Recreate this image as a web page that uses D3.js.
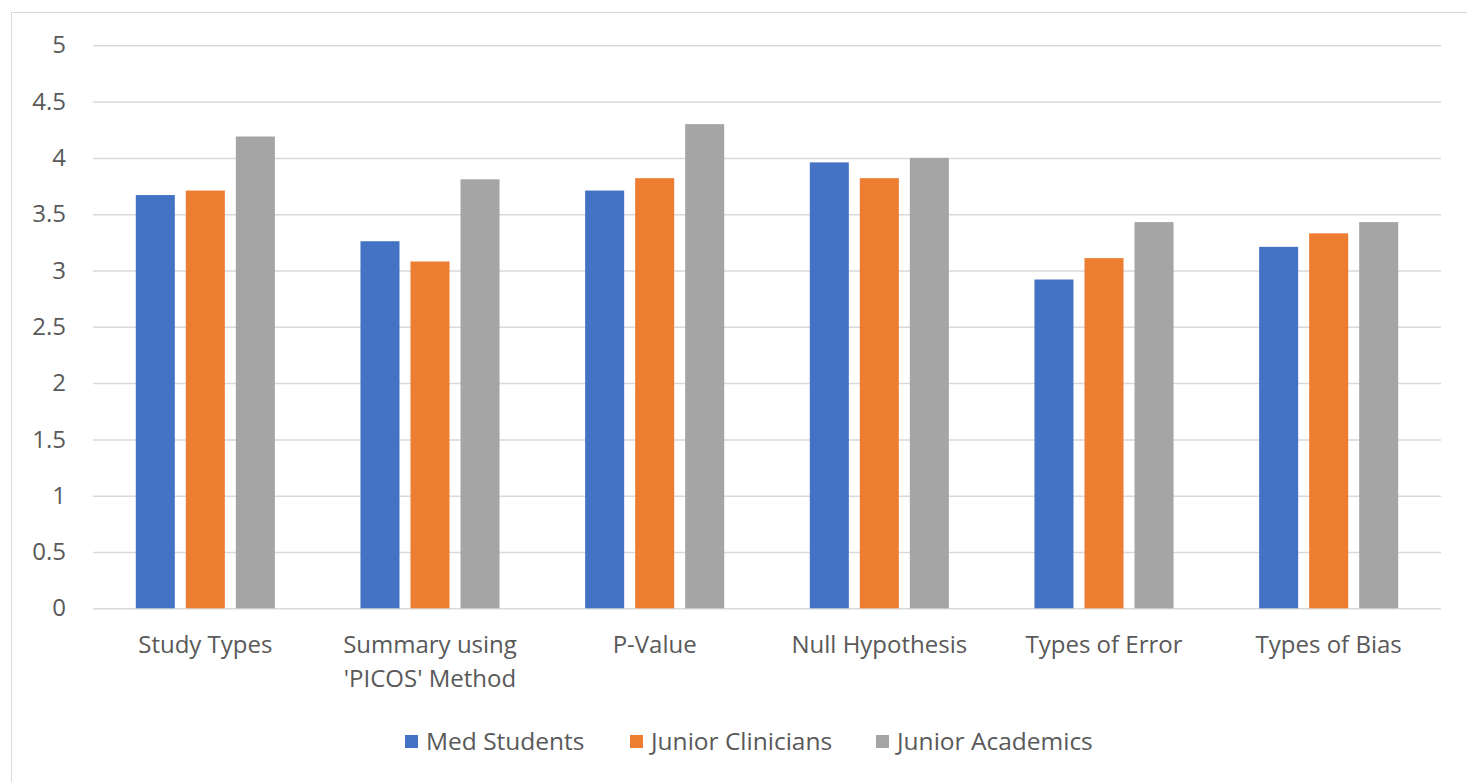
<!DOCTYPE html>
<html>
<head>
<meta charset="utf-8">
<script src="https://cdn.jsdelivr.net/npm/d3@7"></script>
<style>
  body { margin: 0; background: #fff; overflow: hidden; }
  text { font-family: "Open Sans", "Noto Sans", sans-serif; fill: #595959; }
</style>
</head>
<body>
<svg id="chart"></svg>
<script>
// ---------- data ----------
var categories = [["Study Types"], ["Summary using", "'PICOS' Method"], ["P-Value"],
                  ["Null Hypothesis"], ["Types of Error"], ["Types of Bias"]];
var seriesNames = ["Med Students", "Junior Clinicians", "Junior Academics"];
var medStudents = [3.67, 3.26, 3.71, 3.96, 2.92, 3.21];
var juniorClinicians = [3.71, 3.08, 3.82, 3.82, 3.11, 3.33];
var juniorAcademics = [4.19, 3.81, 4.30, 4.00, 3.43, 3.43];
var yTicks = [0, 0.5, 1, 1.5, 2, 2.5, 3, 3.5, 4, 4.5, 5];
var colors = ["#4472C4", "#ED7D31", "#A5A5A5"];

var screen = {width: 1467, height: 782};
var plot = {left: 93, right: 1441, top: 45.3, bottom: 608.3};

var svg = d3.select("#chart")
  .attr("width", screen.width)
  .attr("height", screen.height);

// chart frame (right and bottom edges are cut off in the picture)
svg.append("rect")
  .attr("x", 11.5).attr("y", 12.5)
  .attr("width", 1500).attr("height", 800)
  .attr("fill", "none")
  .attr("stroke", "#d9d9d9")
  .attr("stroke-width", 1);

//---------scales---------
var x0 = d3.scaleBand()
  .domain(d3.range(categories.length))
  .range([plot.left, plot.right])
  .paddingInner(0.381)
  .paddingOuter(0.1905);

var x1 = d3.scaleBand()
  .domain(d3.range(seriesNames.length))
  .range([0, x0.bandwidth()])
  .paddingInner(0.22);

var yScale = d3.scaleLinear()
  .domain([0, 5])
  .range([plot.bottom, plot.top]);

//---------grid + y axis---------
var yAxis = d3.axisLeft(yScale)
  .tickValues(yTicks)
  .tickSize(-(plot.right - plot.left))
  .tickPadding(27)
  .tickFormat(function (d) { return d; });

var yg = svg.append("g")
  .attr("transform", "translate(" + plot.left + ",0)")
  .call(yAxis);
yg.select(".domain").remove();
yg.selectAll(".tick line").attr("stroke", "#d9d9d9").attr("stroke-width", 1.5);
yg.selectAll(".tick text")
  .style("font-size", "24px")
  .attr("fill", "#595959");

//---------bars---------
var rows = categories.map(function (c, i) {
  return [medStudents[i], juniorClinicians[i], juniorAcademics[i]];
});

var groups = svg.append("g").selectAll("g")
  .data(rows)
  .enter()
  .append("g")
  .attr("transform", function (d, i) { return "translate(" + x0(i) + ",0)"; });

groups.selectAll("rect")
  .data(function (d) { return d; })
  .enter()
  .append("rect")
  .attr("x", function (d, j) { return x1(j); })
  .attr("y", function (d) { return yScale(d); })
  .attr("width", x1.bandwidth())
  .attr("height", function (d) { return yScale(0) - yScale(d); })
  .attr("fill", function (d, j) { return colors[j]; });

//---------category labels---------
var labels = svg.append("g").selectAll("text")
  .data(categories)
  .enter()
  .append("text")
  .attr("x", function (d, i) { return x0(i) + x0.bandwidth() / 2; })
  .attr("y", 653)
  .attr("text-anchor", "middle")
  .style("font-size", "24px");

labels.selectAll("tspan")
  .data(function (d) { return d; })
  .enter()
  .append("tspan")
  .attr("x", function () { return d3.select(this.parentNode).attr("x"); })
  .attr("dy", function (d, k) { return k === 0 ? 0 : 34; })
  .text(function (d) { return d; });

//---------legend---------
var legendX = [405, 630, 876];
var legend = svg.append("g").selectAll("g")
  .data(seriesNames)
  .enter()
  .append("g")
  .attr("transform", function (d, i) { return "translate(" + legendX[i] + ",735)"; });

legend.append("rect")
  .attr("width", 13).attr("height", 13)
  .attr("fill", function (d, i) { return colors[i]; });

legend.append("text")
  .attr("x", 21)
  .attr("y", 15)
  .style("font-size", "24.5px")
  .text(function (d) { return d; });
</script>
</body>
</html>
